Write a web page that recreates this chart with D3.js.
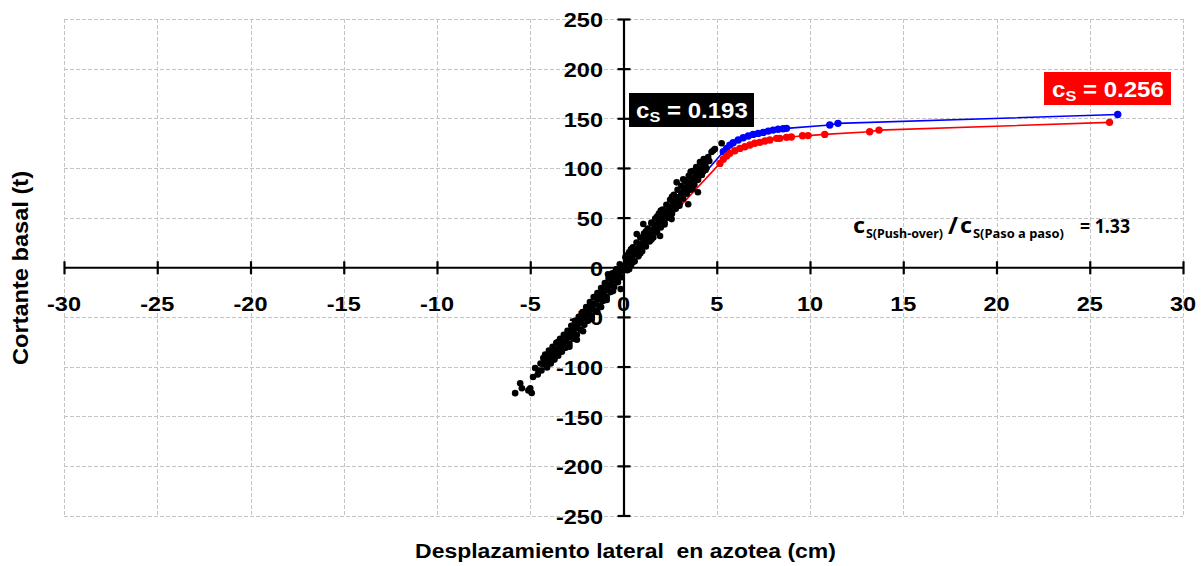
<!DOCTYPE html>
<html><head><meta charset="utf-8">
<script src="https://cdn.jsdelivr.net/npm/d3@7"></script>
<style>
body{margin:0;background:#fff}
svg{display:block}
text{font-family:Arial,"Liberation Sans",sans-serif;font-weight:bold;fill:#000}
</style>
</head><body>
<svg id="chart" width="1201" height="566"></svg>
<script>
// ---- data ----
const xTickValues = [-30,-25,-20,-15,-10,-5,0,5,10,15,20,25,30];
const yTickValues = [-250,-200,-150,-100,-50,0,50,100,150,200,250];

// Push-over curve (blue)
const pushBlueX = [0,5.35,5.53,5.70,5.88,6.15,6.42,6.69,6.95,7.22,7.49,7.76,8.02,8.29,8.56,8.74,11.06,11.5,26.5];
const pushBlueY = [0,116.3,119.7,123.0,125.4,128.1,130.4,132.1,133.8,134.8,135.8,137.1,138.1,138.9,139.5,139.9,143.2,144.9,153.8];

// Push-over curve (red)
const pushRedX = [0,5.17,5.35,5.53,5.70,5.97,6.24,6.51,6.78,7.04,7.31,7.58,7.85,8.21,8.38,8.74,9.0,9.6,9.9,10.79,13.2,13.7,26.06];
const pushRedY = [0,104.6,108.7,112.0,114.7,117.3,119.7,121.3,123.1,124.8,125.8,127.1,128.1,129.8,129.8,130.8,131.2,132.4,132.6,133.8,136.5,138.1,145.9];

// Step-by-step (paso a paso) response points, black
const pasoAPaso = [
 [0,0],[0.1,2],[0.2,5],[0.3,7],[0.4,10],[0.5,12],[0.6,14],[0.7,17],[0.8,19],[0.9,21],[1.0,24],[1.1,26],[1.2,29],[1.3,31],[1.4,33],[1.5,36],[1.6,38],[1.7,40],[1.8,43],[1.9,45],[2.0,48],[2.1,50],[2.2,52],[2.3,55],[2.4,57],[2.5,59],[2.6,62],[2.7,64],[2.8,67],[2.9,69],[3.0,71],[3.1,74],[3.2,76],[3.3,79],[3.4,81],[3.5,83],[3.6,86],[3.7,88],[3.8,90],[3.9,93],[4.0,95],[4.1,98],[4.2,100],[4.3,102],[4.4,105],
 [0.1,10],[0.3,15],[0.5,20],[0.7,25],[0.9,30],[1.1,34],[1.3,39],[1.5,44],[1.7,49],[1.9,54],[2.1,58],[2.3,63],[2.5,68],[2.7,73],[2.9,78],[3.1,82],[3.3,87],[3.5,92],[3.7,97],[3.9,101],[4.1,106],[4.3,109],
 [0.2,-3],[0.4,2],[0.6,6],[0.8,11],[1.0,16],[1.2,21],[1.4,26],[1.6,30],[1.8,35],[2.0,40],[2.2,45],[2.4,50],[2.6,54],[2.8,59],[3.0,64],[3.2,69],[3.4,74],[3.6,78],[3.8,83],[4.0,88],[4.2,93],[4.4,98],
 [4.19,105],[4.54,111],[4.81,117.5],[5.26,124.8],[4.72,116],[4.9,119],[3.92,99],[4.6,107],[4.35,108],[4.45,100],[4.25,96],
 [3.47,63.5],[3.99,75.5],[1.96,31.5],[2.58,48.5],[2.2,43],[1.5,28],[3.0,62],[0.9,14],[0.5,5],[0.3,-2],[3.7,79],[2.85,85.5],[3.2,88.5],
 [1.06,43.5],[0.71,33.5],[0.4,18],[2.0,57],[2.6,71],[3.6,96],[0.2,12],[1.5,45],[1.2,36],[1.8,51],
 [-0.1,-2],[-0.2,-5],[-0.3,-7],[-0.4,-10],[-0.5,-12],[-0.6,-14],[-0.7,-17],[-0.8,-19],[-0.9,-21],[-1.0,-24],[-1.1,-26],[-1.2,-29],[-1.3,-31],[-1.4,-33],[-1.5,-36],[-1.6,-38],[-1.7,-40],[-1.8,-43],[-1.9,-45],[-2.0,-48],[-2.1,-50],[-2.2,-52],[-2.3,-55],[-2.4,-57],[-2.5,-59],[-2.6,-62],[-2.7,-64],[-2.8,-67],[-2.9,-69],[-3.0,-71],[-3.1,-74],[-3.2,-76],[-3.3,-78],[-3.4,-80],[-3.5,-82],[-3.6,-84],[-3.7,-86],[-3.8,-88],[-3.9,-90],[-4.0,-92],[-4.1,-94],[-4.2,-96],[-4.3,-98],
 [-0.2,3],[-0.4,-2],[-0.6,-6],[-0.8,-11],[-1.0,-16],[-1.2,-21],[-1.4,-26],[-1.6,-30],[-1.8,-35],[-2.0,-40],[-2.2,-45],[-2.4,-50],[-2.6,-54],[-2.8,-59],[-3.0,-64],[-3.2,-68],[-3.4,-72],[-3.6,-76],[-3.8,-80],[-4.0,-84],[-4.2,-88],
 [-0.1,-10],[-0.3,-15],[-0.5,-20],[-0.7,-25],[-0.9,-30],[-1.1,-34],[-1.3,-39],[-1.5,-44],[-1.7,-49],[-1.9,-54],[-2.1,-58],[-2.3,-63],[-2.5,-68],[-2.7,-72],[-2.9,-77],[-3.1,-81],[-3.3,-85],[-3.5,-89],[-3.7,-93],[-3.9,-97],[-4.1,-101],
 [-0.56,-24],[-0.15,-22],[-0.83,-7],[-1.2,-40],[-1.7,-52],[-2.17,-64.5],[-2.5,-73],[-2.9,-80],[-3.78,-92],[-0.9,-33],[-1.4,-45],[-1.0,-20],[-2.0,-43],[-3.5,-75],[-0.5,-9],[-2.6,-56],
 [-4.3,-91.5],[-4.45,-97],[-4.56,-104],[-4.74,-101.5],[-4.6,-108],[-4.85,-110.5],[-4.92,-126.6],[-5.0,-121.8],[-5.1,-124],[-5.45,-121.8],[-5.54,-116.8],[-5.81,-126.8],[-4.4,-104]
];

// ---- layout ----
const svg = d3.select('#chart');
const x = d3.scaleLinear().domain([-30,30]).range([64,1183]);
const y = d3.scaleLinear().domain([-250,250]).range([515.5,19]);
const SX = 1.12; // horizontal stretch of the glyphs in the reference

function stretchedText(parent, px, py, str, size, anchor){
  return parent.append('text')
    .attr('transform', `translate(${px},${py}) scale(${SX},1)`)
    .attr('text-anchor', anchor||'start')
    .style('font-size', size+'px')
    .text(str);
}

// grid
const grid = svg.append('g').attr('stroke','#c4c4c4').attr('stroke-width',1).attr('stroke-dasharray','4,2').attr('fill','none');
grid.selectAll('line.v').data(xTickValues).join('line').attr('class','v')
  .attr('x1',d=>Math.round(x(d))+0.5).attr('x2',d=>Math.round(x(d))+0.5).attr('y1',y(250)).attr('y2',y(-250));
grid.selectAll('line.h').data(yTickValues).join('line').attr('class','h')
  .attr('y1',d=>Math.round(y(d))+0.5).attr('y2',d=>Math.round(y(d))+0.5).attr('x1',x(-30)).attr('x2',x(30));

// axes through origin
const x0 = x(0), y0 = y(0);
const xAxis = d3.axisBottom(x).tickValues(xTickValues).tickSize(0).tickFormat('');
const yAxis = d3.axisLeft(y).tickValues(yTickValues).tickSize(0).tickFormat('');
const gx = svg.append('g').attr('transform',`translate(0,${y0})`).call(xAxis);
const gy = svg.append('g').attr('transform',`translate(${x0},0)`).call(yAxis);
[gx,gy].forEach(g=>{ g.select('.domain').attr('stroke','#000').attr('stroke-width',2.2); });
gx.selectAll('.tick').append('line').attr('y1',-6).attr('y2',7).attr('stroke','#000').attr('stroke-width',2.2);
gy.selectAll('.tick').append('line').attr('x1',-6).attr('x2',7).attr('stroke','#000').attr('stroke-width',2.2);

// tick labels
const xl = svg.append('g');
xTickValues.forEach(v=>stretchedText(xl, x(v), 311, String(v), 21, 'middle'));
const yl = svg.append('g');
yTickValues.forEach(v=>stretchedText(yl, 603, y(v)+8.3, String(v), 21, 'end'));

// push-over curves
const line = d3.line().x(d=>x(d[0])).y(d=>y(d[1]));
function drawSeries(xs, ys, color){
  const pts = xs.map((v,i)=>[v, ys[i]]);
  svg.append('path').datum(pts).attr('d',line).attr('fill','none').attr('stroke',color).attr('stroke-width',1.6);
  svg.append('g').selectAll('circle').data(pts.slice(1)).join('circle')
    .attr('cx',d=>x(d[0])).attr('cy',d=>y(d[1])).attr('r',3.7).attr('fill',color);
}
drawSeries(pushBlueX, pushBlueY, '#0000ff');
drawSeries(pushRedX, pushRedY, '#ff0000');

// black scatter
svg.append('g').selectAll('circle').data(pasoAPaso).join('circle')
  .attr('cx',d=>x(d[0])).attr('cy',d=>y(d[1])).attr('r',3.3).attr('fill','#000');

// annotation boxes
function csLabel(bx, by, bw, bh, tx, ty, value, bg){
  svg.append('rect').attr('x',bx).attr('y',by).attr('width',bw).attr('height',bh).attr('fill',bg);
  const t = svg.append('text').attr('transform',`translate(${tx},${ty}) scale(${SX},1)`).style('fill','#fff').style('font-size','21.5px');
  t.append('tspan').text('c');
  t.append('tspan').attr('dy',4).style('font-size','14.5px').text('S');
  t.append('tspan').attr('dy',-4).text(' = ' + value);
}
csLabel(629, 93, 125, 34, 636, 118, '0.193', '#000');
csLabel(1044, 72, 127, 33, 1052, 96.5, '0.256', '#ff0000');

// ratio annotation: one text, pieces fitted to measured widths
const rt = svg.append('text').style('font-family','"Noto Sans","Open Sans",sans-serif').style('font-weight','bold');
function piece(str, px, py, size, len){
  rt.append('tspan').attr('x',px).attr('y',py).style('font-size',size+'px')
    .attr('textLength',len).attr('lengthAdjust','spacingAndGlyphs').text(str);
}
piece('c', 853, 233, 21, 12);
piece('S(Push-over)', 866, 237.5, 12.5, 77);
piece('/', 948, 234, 24, 10);
piece('c', 960, 233, 21, 12);
piece('S(Paso a paso)', 973, 237.5, 13, 91);
piece('= 1.33', 1080, 233, 19, 50);

// axis titles
stretchedText(svg, 625.5, 558, 'Desplazamiento lateral  en azotea (cm)', 20.5, 'middle').style('white-space','pre');
svg.append('text').attr('transform','translate(28,268) rotate(-90)').attr('text-anchor','middle')
  .attr('textLength',194).attr('lengthAdjust','spacingAndGlyphs')
  .style('font-size','21.5px').text('Cortante basal (t)');
</script>
</body></html>
